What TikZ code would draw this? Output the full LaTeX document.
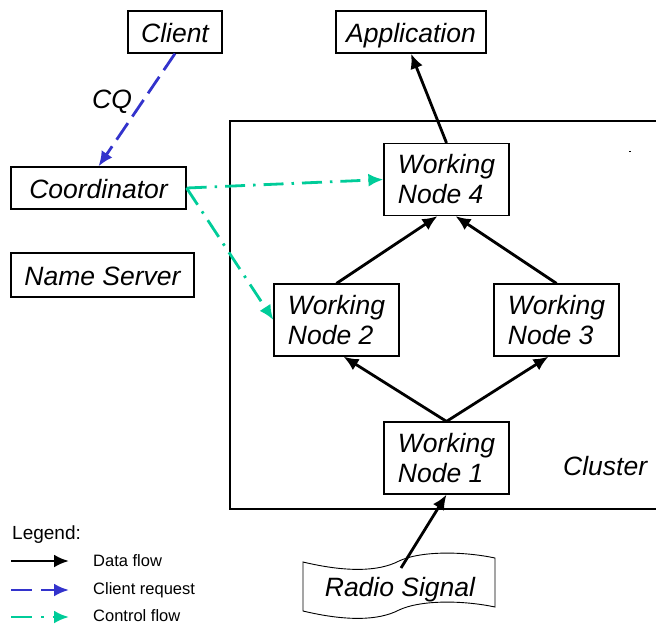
\documentclass[tikz,border=0pt]{standalone}
\usepackage{fontspec}
\setmainfont{Liberation Sans}
\usetikzlibrary{arrows.meta}
\definecolor{reqblue}{RGB}{51,51,204}
\definecolor{ctlgreen}{RGB}{0,204,153}
\begin{document}
\begin{tikzpicture}[x=1pt,y=1pt,
  box/.style={draw, line width=1.2pt, inner sep=0pt, font=\itshape\fontsize{26.5}{30}\selectfont},
  onebox/.style={box, text height=22pt, text depth=2pt},
  wnode/.style={box, minimum width=125, minimum height=72, align=left},
  lbl/.style={inner sep=0pt, font=\itshape\fontsize{26.5}{30}\selectfont},
  legtext/.style={inner sep=0pt, anchor=west, font=\fontsize{16.5}{20}\selectfont},
  tip/.style={-{Latex[length=15pt,width=13pt]}},
  data/.style={line width=2.8pt, tip},
  request/.style={line width=2.8pt, reqblue, dash pattern=on 20pt off 8pt, tip},
  control/.style={line width=2.8pt, ctlgreen, dash pattern=on 20pt off 8pt on 2.5pt off 8pt, tip},
  legdata/.style={line width=2.8pt, tip},
  legrequest/.style={line width=2.8pt, reqblue, dash pattern=on 21pt off 9pt, tip},
  legcontrol/.style={line width=2.8pt, ctlgreen, dash pattern=on 21pt off 9pt on 2.5pt off 9pt, tip},
]
\useasboundingbox (0,0) rectangle (656,-625);

% cluster frame
\draw[line width=1.2pt] (230,-121) rectangle (664,-509);
\node[lbl, anchor=west] (clusterlbl) at (563,-466) {Cluster};
\fill (629,-150.5) rectangle (631,-151.5);

% boxes
\node[onebox, minimum width=94, minimum height=42] (client) at (175,-32) {Client};
\node[onebox, minimum width=150, minimum height=42] (app) at (411,-32) {Application};
\node[onebox, minimum width=175, minimum height=42] (coord) at (98.5,-188) {Coordinator};
\node[onebox, minimum width=183, minimum height=44] (ns) at (102.5,-275) {Name Server};
\node[wnode] (wn4) at (446.5,-179.5) {Working\\Node 4};
\node[wnode] (wn2) at (336.5,-320) {Working\\Node 2};
\node[wnode] (wn3) at (556.5,-320) {Working\\Node 3};
\node[wnode] (wn1) at (446.5,-458) {Working\\Node 1};

% radio signal (tape shape)
\draw[line width=0.9pt, fill=white]
  (303,-562) .. controls (345,-572) and (378,-572) .. (399,-561)
             .. controls (420,-551) and (462,-551) .. (495,-558)
  -- (495,-607)
  .. controls (462,-600) and (420,-600) .. (399,-610)
  .. controls (378,-621) and (345,-621) .. (303,-611) -- cycle;
\node[lbl] (radio) at (400,-590) {Radio Signal};
\coordinate (rs) at (401,-568);

% client request
\draw[request] (client.south) -- (coord.north);
\node[lbl] (cq) at (112,-102) {CQ};

% control flow
\draw[control] (coord.east) -- (wn4.west);
\draw[control] (coord.east) -- (wn2.west);

% data flow
\draw[data] (wn4.north) -- (app.south);
\draw[data] (wn2.north) -- ([xshift=-9pt]wn4.south);
\draw[data] (wn3.north) -- ([xshift=9pt]wn4.south);
\draw[data] (wn1.north) -- ([xshift=7pt]wn2.south);
\draw[data] (wn1.north) -- ([xshift=-8pt]wn3.south);
\draw[data] (rs) -- (wn1.south);

% legend
\node[inner sep=0pt, anchor=west, font=\fontsize{19}{22}\selectfont] (legend) at (12,-535) {Legend:};
\coordinate (l1a) at (11,-561); \coordinate (l1b) at (69,-561);
\coordinate (l2a) at (11,-590); \coordinate (l2b) at (69,-590);
\coordinate (l3a) at (11,-617); \coordinate (l3b) at (69,-617);
\draw[legdata] (l1a) -- (l1b);
\draw[legrequest] (l2a) -- (l2b);
\draw[legcontrol] (l3a) -- (l3b);
\node[legtext] (t1) at (93,-561) {Data flow};
\node[legtext] (t2) at (93,-590) {Client request};
\node[legtext] (t3) at (93,-616) {Control flow};
\end{tikzpicture}
\end{document}
